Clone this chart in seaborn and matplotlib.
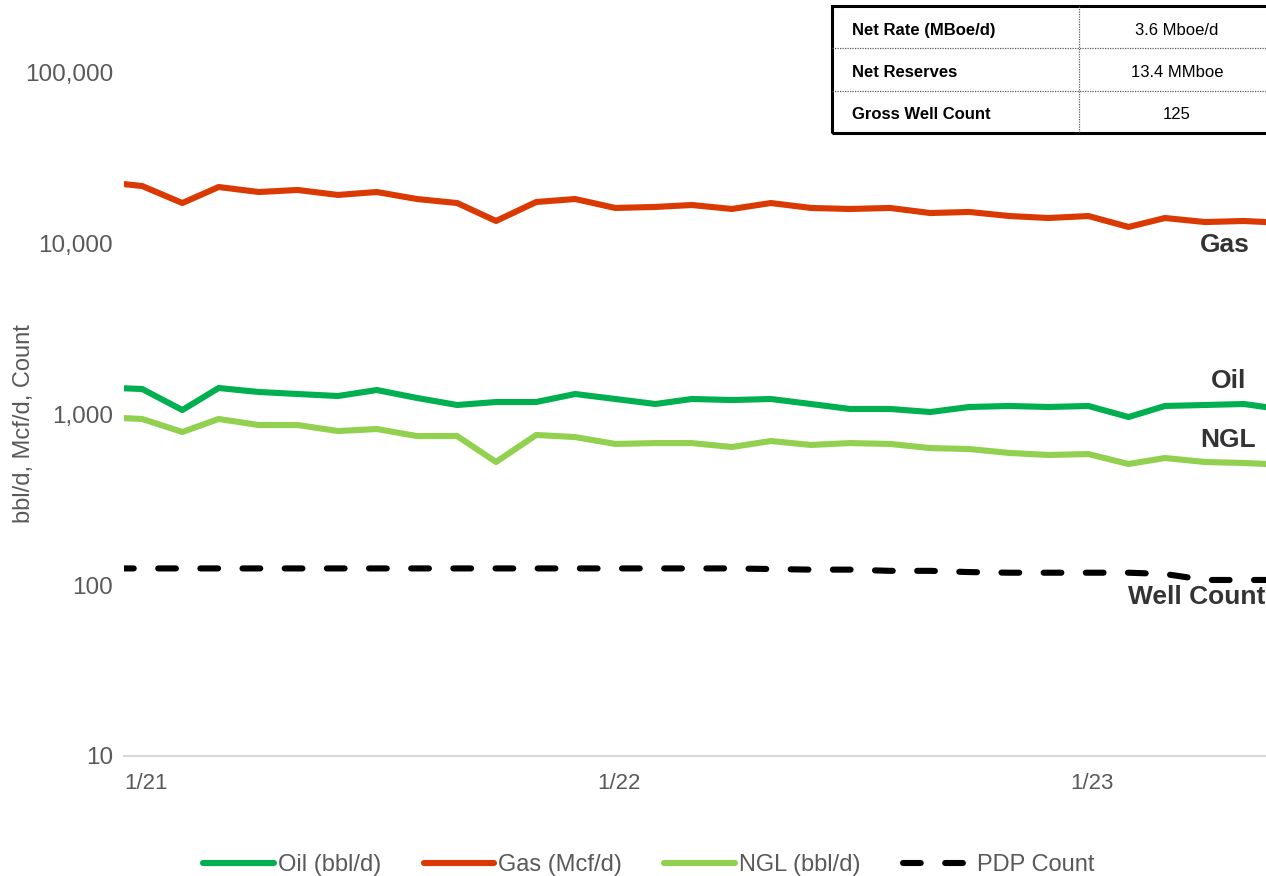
import matplotlib
matplotlib.use("Agg")
import matplotlib.pyplot as plt
import matplotlib.dates as mdates
from matplotlib.ticker import FixedLocator, FuncFormatter, NullLocator
from matplotlib.patches import Rectangle
from matplotlib.lines import Line2D
import numpy as np
import pandas as pd
import seaborn as sns

# Monthly production history (mid-month readings), Dec 2020 - Jun 2023
months = pd.date_range("2020-12-01", "2023-06-01", freq="MS") + pd.Timedelta(days=14)

oil_bbl_d = [1430,
             1400, 1055, 1419, 1345, 1309, 1274, 1381, 1241, 1129, 1175, 1175, 1309,
             1224, 1144, 1224, 1207, 1224, 1144, 1070, 1070, 1027, 1099, 1114, 1099,
             1114, 960, 1114, 1129, 1144,
             1060]
gas_mcf_d = [22800,
             21540, 17130, 21250, 19870, 20420, 19100, 19870, 18080, 17130, 13450, 17370, 18080,
             16030, 16250, 16680, 15810, 17130, 16030, 15810, 16030, 14970, 15190, 14380, 14000,
             14380, 12410, 14000, 13260, 13450,
             13100]
ngl_bbl_d = [960,
             935, 785, 935, 862, 862, 795, 817, 743, 743, 524, 754, 733,
             668, 676, 676, 641, 695, 659, 676, 668, 632, 624, 592, 576,
             583, 510, 553, 524, 517,
             505]
pdp_count = [125,
             125, 125, 125, 125, 125, 125, 125, 125, 125, 125, 125, 125,
             125, 125, 125, 125, 124, 123, 123, 121, 121, 119, 118, 118,
             118, 118, 116, 107, 107,
             107]

series_names = ["Oil (bbl/d)", "Gas (Mcf/d)", "NGL (bbl/d)", "PDP Count"]
series_colors = ["#00B050", "#DA3A02", "#92D050", "#000000"]

table_rows = [("Net Rate (MBoe/d)", "3.6 Mboe/d"),
              ("Net Reserves", "13.4 MMboe"),
              ("Gross Well Count", "125")]

y_ticks = [10, 100, 1000, 10000, 100000]
x_ticks = pd.to_datetime(["2021-01-01", "2022-01-01", "2023-01-01"])

sns.set_theme(style="white")
plt.rcParams["font.family"] = ["Liberation Sans", "DejaVu Sans"]

W, H = 1266, 876
fig = plt.figure(figsize=(W / 100, H / 100), dpi=100)
ax = fig.add_axes([124 / W, 1 - 756 / H, 1 - 124 / W, 756 / H])

df = pd.DataFrame({"date": months, "oil": oil_bbl_d, "gas": gas_mcf_d,
                   "ngl": ngl_bbl_d, "count": pdp_count})

lw = 4.4
dash = [2.9, 4.0]
for col, name, color in zip(["oil", "gas", "ngl"], series_names[:3], series_colors[:3]):
    sns.lineplot(data=df, x="date", y=col, ax=ax, color=color, linewidth=lw,
                 label=name, legend=False, solid_capstyle="butt")
sns.lineplot(data=df, x="date", y="count", ax=ax, color=series_colors[3],
             linewidth=lw, label=series_names[3], legend=False)
count_line = ax.get_lines()[-1]
count_line.set_linestyle((4.6, dash))
count_line.set_dash_capstyle("round")

ax.set_yscale("log")
ax.set_ylim(10, 10 ** (1 + 756 / 171))
ax.set_xlim(pd.Timestamp("2021-01-01"), pd.Timestamp("2023-06-01"))

ax.yaxis.set_major_locator(FixedLocator(y_ticks))
ax.yaxis.set_minor_locator(NullLocator())
ax.yaxis.set_major_formatter(FuncFormatter(lambda v, p: f"{v:,.0f}"))
ax.xaxis.set_major_locator(FixedLocator(mdates.date2num(x_ticks)))
ax.xaxis.set_minor_locator(NullLocator())
ax.xaxis.set_major_formatter(FuncFormatter(
    lambda v, p: f"{mdates.num2date(v).month}/{mdates.num2date(v).year % 100:02d}"))

for s in ["top", "right", "left"]:
    ax.spines[s].set_visible(False)
ax.spines["bottom"].set_color("#D9D9D9")
ax.spines["bottom"].set_linewidth(1.5)
ax.tick_params(axis="y", length=0, pad=8, labelsize=17.5, labelcolor="#595959")
ax.tick_params(axis="x", length=6, width=1.5, color="#D9D9D9", direction="out",
               pad=6, labelsize=16, labelcolor="#595959")
for t in ax.get_xticklabels():
    t.set_horizontalalignment("left")
ax.set_xlabel("")
ax.set_ylabel("bbl/d, Mcf/d, Count", fontsize=17, color="#595959")
ax.yaxis.set_label_coords(-(124 - 35) / (W - 124), 0.44)
ax.grid(False)

# Series callouts
def fx(px):
    return px / W

def fy(py):
    return 1 - py / H

lab_kw = dict(fontsize=19, fontweight="bold", color="#333333", va="center")
fig.text(fx(1250), fy(245), "Gas", ha="right", **lab_kw)
fig.text(fx(1246), fy(381), "Oil", ha="right", **lab_kw)
fig.text(fx(1256), fy(440), "NGL", ha="right", **lab_kw)
fig.text(fx(1128), fy(597), "Well Count", ha="left", **lab_kw)

# Summary table in the upper right corner
tx0, tx1, ty0, ty1, tcol = 832, 1320, 6, 133, 1079
row_h = (ty1 - ty0) / len(table_rows)
for i in range(1, len(table_rows)):
    yy = ty0 + i * row_h
    fig.add_artist(Line2D([fx(tx0), fx(W)], [fy(yy), fy(yy)], color="#595959",
                          linewidth=0.9, linestyle=(0, (1, 1))))
fig.add_artist(Line2D([fx(tcol), fx(tcol)], [fy(ty0), fy(ty1)], color="#595959",
                      linewidth=0.9, linestyle=(0, (1, 1))))
fig.add_artist(Rectangle((fx(tx0), fy(ty1)), fx(tx1) - fx(tx0), fy(ty0) - fy(ty1),
                         fill=False, edgecolor="black", linewidth=2.2))
for i, (k, v) in enumerate(table_rows):
    yc = ty0 + (i + 0.5) * row_h + 3
    fig.text(fx(852), fy(yc), k, ha="left", va="center", fontsize=12,
             fontweight="bold", color="black")
    fig.text(fx(1177), fy(yc), v, ha="center", va="center", fontsize=12, color="black")

# Legend along the bottom
handles = [Line2D([], [], color=c, linewidth=lw) for c in series_colors[:3]]
handles.append(Line2D([], [], color="black", linewidth=lw, dashes=dash,
                      dash_capstyle="round"))
fig.legend(handles, series_names, loc="center", bbox_to_anchor=(fx(649), fy(865)),
           ncol=4, frameon=False, fontsize=17, labelcolor="#595959",
           handlelength=3.0, handletextpad=0.15, columnspacing=1.8)

fig.savefig("out.png", dpi=100)
